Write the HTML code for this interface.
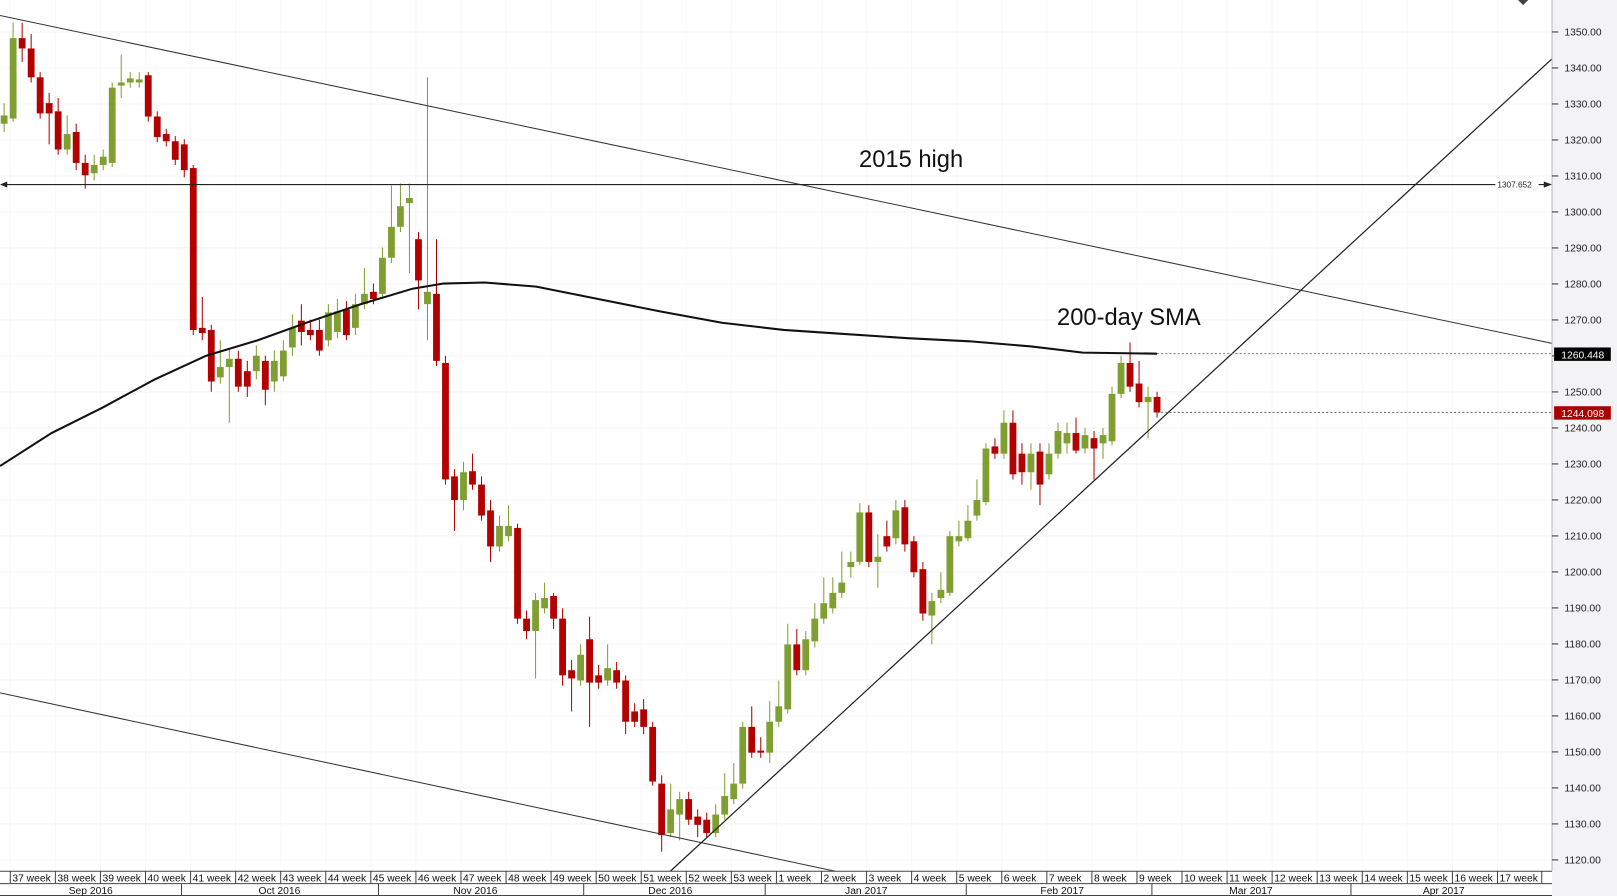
<!DOCTYPE html>
<html><head><meta charset="utf-8"><style>
html,body{margin:0;padding:0;background:#fff;overflow:hidden}
svg{display:block}
text{font-family:"Liberation Sans",sans-serif}
</style></head><body>
<svg id="c" width="1617" height="896" viewBox="0 0 1568 869" preserveAspectRatio="none" xmlns="http://www.w3.org/2000/svg">
<rect x="0" y="0" width="1568" height="869" fill="#fff"/>
<rect x="1505" y="0" width="63" height="869" fill="#f3f3f6"/>
<g id="grid"></g>
<g id="candles"></g>
<polyline fill="none" stroke="#111" stroke-width="2" points="0,452 50,420 100,395 150,368 200,345 250,330 300,312 350,295 400,280 430,275 470,274 520,278 580,290 640,302 700,313 760,320 820,324 880,328 940,331 1000,336 1050,342 1122,343"/>
<line x1="0" y1="15" x2="1505" y2="333" stroke="#333" stroke-width="1"/>
<line x1="0" y1="672" x2="810" y2="845" stroke="#333" stroke-width="1"/>
<line x1="650" y1="845" x2="1505" y2="57" stroke="#222" stroke-width="1.2"/>
<line x1="4" y1="179" x2="1500" y2="179" stroke="#222" stroke-width="1"/>
<polygon points="0,179 7,176 7,182" fill="#222"/>
<polygon points="1505,179 1497,176 1497,182" fill="#222"/>
<rect x="1450" y="173" width="42" height="11" fill="#fff"/>
<text x="1452" y="182" font-size="8" fill="#222">1307.652</text>
<line x1="1122" y1="343" x2="1505" y2="343" stroke="#777" stroke-dasharray="2,2"/>
<line x1="1122" y1="400" x2="1505" y2="400" stroke="#777" stroke-dasharray="2,2"/>
<text x="833" y="162" font-size="23" fill="#111">2015 high</text>
<text x="1025" y="315" font-size="23" fill="#111">200-day SMA</text>
<polygon points="1472,0 1482,0 1477,5" fill="#444"/>
<line x1="1505" y1="0" x2="1505" y2="845" stroke="#bbb"/>
<g id="axis"></g>
<rect x="1507" y="337" width="55" height="13" fill="#000"/>
<text x="1514" y="347.5" font-size="10" fill="#fff">1260.448</text>
<rect x="1507" y="394" width="55" height="13" fill="#a00"/>
<text x="1514" y="404.5" font-size="10" fill="#fff">1244.098</text>
<rect x="0" y="845" width="1505" height="24" fill="#fff"/>
<line x1="0" y1="845" x2="1505" y2="845" stroke="#444"/>
<line x1="0" y1="857" x2="1505" y2="857" stroke="#444"/>
<line x1="0" y1="868.5" x2="1505" y2="868.5" stroke="#444"/>
<g id="xaxis"></g>
</svg>
<script>
var NS="http://www.w3.org/2000/svg";
function el(p,t,a,txt){var e=document.createElementNS(NS,t);for(var k in a)e.setAttribute(k,a[k]);if(txt!=null)e.textContent=txt;document.getElementById(p).appendChild(e);return e;}
function yp(p){return 31+(1350-p)*3.4913;}
for(var p=1120;p<=1350;p+=10){var y=yp(p);
el("grid","line",{x1:0,y1:y,x2:1505,y2:y,stroke:"#f4f4f4"});
el("axis","line",{x1:1505,y1:y,x2:1511,y2:y,stroke:"#333"});
el("axis","text",{x:1517,y:y+3.5,"font-size":10,fill:"#222"},p.toFixed(2));}
var wk=["37","38","39","40","41","42","43","44","45","46","47","48","49","50","51","52","53","1","2","3","4","5","6","7","8","9","10","11","12","13","14","15","16","17"];
for(var i=0;i<wk.length;i++){var x=10+43.7*i;
el("grid","line",{x1:x,y1:0,x2:x,y2:845,stroke:"#f8f8f8"});
el("xaxis","line",{x1:x,y1:845,x2:x,y2:857,stroke:"#444"});
el("xaxis","text",{x:x+2,y:855,"font-size":10,fill:"#111"},wk[i]+" week");}
el("xaxis","line",{x1:1495,y1:845,x2:1495,y2:857,stroke:"#444"});
var mb=[176,367,566,742,937,1117,1310];
mb.forEach(function(x){el("xaxis","line",{x1:x,y1:857,x2:x,y2:869,stroke:"#444"});});
var ml=[[88,"Sep 2016"],[271,"Oct 2016"],[461,"Nov 2016"],[650,"Dec 2016"],[840,"Jan 2017"],[1030,"Feb 2017"],[1213,"Mar 2017"],[1400,"Apr 2017"]];
ml.forEach(function(m){el("xaxis","text",{x:m[0],y:867,"font-size":10,fill:"#111","text-anchor":"middle"},m[1]);});
var d=[[112,120,"g",100,128],[37,115,"g",22,118],[37,47,"r",22,60],[47,75,"r",33,80],[75,110,"r",70,115],[100,110,"r",90,140],[108,145,"r",95,150],[130,145,"g",112,150],[128,158,"r",120,165],[158,170,"r",150,183],[160,168,"g",150,175],[152,160,"g",145,165],[85,158,"g",80,162],[80,83,"g",53,95],[76,80,"g",70,85],[77,80,"g",70,85],[73,113,"r",70,118],[113,133,"r",108,138],[130,137,"r",125,142],[137,155,"r",132,160],[140,165,"r",135,172],[163,320,"r",160,325],[318,323,"r",288,330],[320,370,"r",315,380],[356,366,"g",330,372],[348,356,"g",338,410],[348,375,"r",340,380],[360,375,"r",350,385],[345,360,"g",335,368],[350,378,"r",345,393],[350,370,"g",340,380],[340,365,"g",330,370],[318,337,"g",305,345],[311,322,"r",295,335],[320,325,"r",310,330],[320,340,"r",310,345],[303,330,"g",295,336],[302,322,"g",290,328],[300,325,"r",292,330],[295,318,"g",285,325],[285,295,"g",260,300],[283,290,"r",275,295],[250,285,"g",240,290],[220,250,"g",180,255],[200,220,"g",178,225],[192,197,"g",178,265],[232,272,"r",225,300],[283,295,"g",75,330],[285,350,"r",232,355],[352,465,"r",345,470],[462,485,"r",455,515],[458,485,"g",448,495],[457,470,"r",440,475],[470,500,"r",462,505],[495,530,"r",485,545],[510,530,"g",500,535],[510,520,"g",490,525],[512,600,"r",508,605],[600,612,"r",592,620],[582,612,"g",575,658],[580,590,"g",565,595],[578,600,"r",575,610],[600,655,"r",590,665],[650,658,"r",640,690],[635,660,"g",625,665],[620,662,"r",598,705],[655,662,"r",645,668],[648,660,"g",625,665],[650,662,"r",642,668],[660,700,"r",655,712],[690,700,"r",682,705],[688,705,"r",678,712],[705,758,"r",700,762],[760,810,"r",752,826],[785,808,"g",760,812],[775,790,"g",768,815],[775,795,"r",768,800],[792,800,"r",785,812],[795,808,"r",788,812],[790,808,"g",780,812],[772,790,"g",750,795],[760,775,"g",740,780],[705,760,"g",700,765],[705,730,"r",685,735],[728,730,"r",715,735],[700,730,"g",680,740],[685,700,"g",660,705],[625,688,"g",605,692],[625,650,"r",610,655],[620,650,"g",612,655],[600,622,"g",585,628],[585,600,"g",560,605],[575,590,"g",560,595],[565,575,"g",535,580],[545,550,"g",535,560],[497,545,"g",488,548],[497,545,"r",490,550],[540,545,"g",518,570],[520,530,"r",505,535],[495,522,"g",485,528],[492,528,"r",485,535],[525,555,"r",520,560],[552,595,"r",545,602],[583,597,"g",575,625],[572,580,"g",555,585],[520,575,"g",515,578],[520,525,"g",505,530],[505,522,"g",490,525],[485,500,"g",465,505],[435,487,"g",430,490],[433,440,"r",425,445],[410,440,"g",398,445],[410,460,"r",398,465],[440,458,"r",430,470],[440,458,"g",430,475],[438,470,"r",430,490],[440,460,"g",430,465],[418,440,"g",410,445],[420,430,"g",410,440],[420,437,"r",405,440],[422,435,"g",415,440],[425,435,"r",418,465],[422,430,"g",415,445],[382,428,"g",375,432],[352,382,"g",345,386],[352,375,"r",332,380],[372,390,"r",350,395],[385,390,"g",375,425],[385,400,"r",380,405]];
var step=(1122-4)/(d.length-1);
for(var i=0;i<d.length;i++){var c=d[i],x=4+step*i,col=c[2]=="g"?"#7f9f32":"#b30000";
el("candles","line",{x1:x,y1:c[3],x2:x,y2:c[4],stroke:col,"stroke-width":1});
el("candles","rect",{x:x-3.3,y:c[0],width:6.6,height:Math.max(1.5,c[1]-c[0]),fill:col});}
</script>
</body></html>
